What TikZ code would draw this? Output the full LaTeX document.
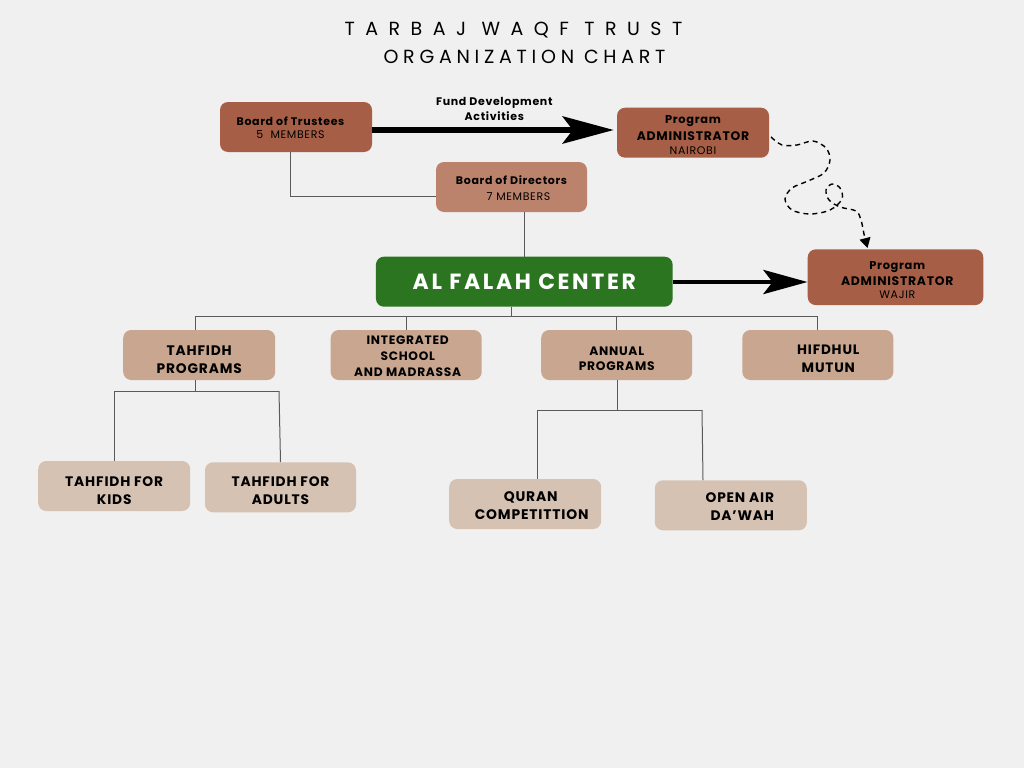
\documentclass[tikz,border=0pt]{standalone}
\usepackage{fontspec}
\setmainfont{Poppins}
\newfontfamily\titlefonta[LetterSpace=55]{Poppins}
\newfontfamily\titlefontb[LetterSpace=25]{Poppins}
\newfontfamily\spfont[LetterSpace=6]{Poppins}
\newfontfamily\bigfont[LetterSpace=12]{Poppins}
\usetikzlibrary{arrows.meta}
\definecolor{bg}{HTML}{F0F0F0}
\definecolor{darkbrown}{HTML}{A65F46}
\definecolor{midbrown}{HTML}{BC836C}
\definecolor{tan}{HTML}{C9A68F}
\definecolor{lighttan}{HTML}{D6C2B3}
\definecolor{leaf}{HTML}{2B7520}
\definecolor{linegray}{HTML}{5A5A5A}
\newcommand{\dn}[2]{\raisebox{-#1}[\height][\depth]{#2}}
\tikzset{
  box/.style={draw=none,rounded corners=8pt,inner sep=0pt,align=center,text=black,
    minimum width=152pt,minimum height=50pt},
  topbox/.style={box,fill=darkbrown},
  dirbox/.style={box,fill=midbrown},
  l1box/.style={box,fill=tan,font=\spfont\bfseries\fontsize{13.8}{17.6}\selectfont},
  l2box/.style={box,fill=lighttan,font=\spfont\bfseries\fontsize{13.8}{17.4}\selectfont},
  tree/.style={draw=linegray,line width=1pt},
}
\newcommand{\bsm}{\spfont\bfseries\fontsize{11}{13}\selectfont}
\newcommand{\rsm}{\spfont\fontsize{11}{13}\selectfont}
\newcommand{\prg}{\spfont\bfseries\fontsize{11.4}{13}\selectfont}
\newcommand{\adm}{\spfont\bfseries\fontsize{12.4}{13}\selectfont}
\begin{document}
\begin{tikzpicture}[x=1pt,y=-1pt]
\fill[bg] (0,0) rectangle (1024,768);
\useasboundingbox (0,0) rectangle (1024,768);

% title
\node[font=\titlefonta\fontsize{19}{22}\selectfont,anchor=base,inner sep=0pt] (t1) at (513.5,35.5) {TARBAJ WAQF TRUST};
\node[font=\titlefontb\fontsize{19}{22}\selectfont,anchor=base,inner sep=0pt] (t2) at (524.5,63.5) {ORGANIZATION CHART};

% boxes
\node[topbox,font=\fontsize{11}{13}\selectfont] (trust) at (296,127)
  {\dn{0.5pt}{\bsm Board of Trustees}\hspace*{11pt}\\\dn{0.5pt}{\rsm 5\ \ MEMBERS}\hspace*{11pt}};
\node[topbox,font=\fontsize{11}{13.6}\selectfont] (nai) at (693,132.7)
  {\dn{2.4pt}{\prg Program}\\[3.1pt]\dn{2.4pt}{\adm ADMINISTRATOR}\\\dn{2.4pt}{\rsm NAIROBI}};
\node[dirbox,minimum width=151pt,font=\fontsize{11}{16}\selectfont] (dir) at (511.5,187)
  {\dn{1pt}{\bsm Board of Directors}\\\hspace*{14pt}\dn{1pt}{\rsm 7 MEMBERS}};
\node[box,fill=leaf,minimum width=296.7pt,minimum height=50pt,text=white,
  font=\bigfont\bfseries\fontsize{22}{24}\selectfont] (alf) at (524.3,281.7) {AL FALAH CENTER};
\node[topbox,minimum width=175.6pt,minimum height=55.7pt,font=\fontsize{11}{13}\selectfont] (waj) at (895.5,277.2)
  {\hspace*{3.6pt}\dn{2.9pt}{\prg Program}\\[3.7pt]\hspace*{3.6pt}\dn{2.9pt}{\adm ADMINISTRATOR}\\\hspace*{3.6pt}\dn{2.9pt}{\rsm WAJIR}};

\node[l1box] (tah) at (199.2,355) {\dn{4.7pt}{TAHFIDH}\\\dn{4.7pt}{PROGRAMS}};
\node[l1box,font=\spfont\bfseries\fontsize{12.2}{16}\selectfont,minimum width=151pt] (int) at (406.2,355)
  {\hspace*{3pt}\dn{0.8pt}{INTEGRATED}\\\hspace*{3pt}\dn{0.8pt}{SCHOOL}\\\hspace*{3pt}\dn{0.8pt}{AND MADRASSA}};
\node[l1box,font=\spfont\bfseries\fontsize{12.3}{15.3}\selectfont,minimum width=151pt] (ann) at (616.7,355)
  {\dn{4pt}{ANNUAL}\\\dn{4pt}{PROGRAMS}};
\node[l1box,font=\spfont\bfseries\fontsize{13.6}{18}\selectfont,minimum width=151pt] (hif) at (817.8,355)
  {\hspace*{21pt}\dn{3.5pt}{HIFDHUL}\\\hspace*{21pt}\dn{3.5pt}{MUTUN}};

\node[l2box] (kids) at (114.2,486) {\dn{4.5pt}{TAHFIDH FOR}\\\dn{4.5pt}{KIDS}};
\node[l2box,minimum width=151pt] (adu) at (280.5,487.3) {\dn{3.2pt}{TAHFIDH FOR}\\\dn{3.2pt}{ADULTS}};
\node[l2box,font=\spfont\bfseries\fontsize{13.9}{17.6}\selectfont] (qur) at (525.2,504)
  {\hspace*{11pt}\dn{1.6pt}{QURAN}\\\hspace*{13pt}\dn{1.6pt}{COMPETITTION}};
\node[l2box,font=\spfont\bfseries\fontsize{13.8}{18.4}\selectfont] (opn) at (730.8,505.3)
  {\hspace*{18pt}\dn{1.4pt}{OPEN AIR}\\\hspace*{23pt}\dn{1.4pt}{DA’WAH}};

% connectors: top part
\draw[tree] (trust.south -| 290,0) |- (dir.west |- 0,196.7);
\draw[tree] (dir.south -| 524.5,0) -- (alf.north -| 524.5,0);

% bus under Al Falah
\coordinate (bus) at (511.7,316.7);
\draw[tree] (alf.south -| 511.7,0) -- (bus);
\draw[tree] (195,316.7) -- (817.5,316.7);
\draw[tree] (195,316.7) -- (tah.north -| 195,0);
\draw[tree] (406,316.7) -- (int.north -| 406,0);
\draw[tree] (616.8,316.7) -- (ann.north -| 616.8,0);
\draw[tree] (817.3,316.7) -- (hif.north -| 817.3,0);

% Tahfidh subtree
\draw[tree] (tah.south -| 195,0) -- (195,391);
\draw[tree] (114,391) -- (279,391);
\draw[tree] (114,391) -- (kids.north -| 114,0);
\draw[tree] (279,391) -- (adu.north -| 280.5,0);

% Annual subtree
\draw[tree] (ann.south -| 617.3,0) -- (617.3,410);
\draw[tree] (537,410) -- (702,410);
\draw[tree] (537,410) -- (qur.north -| 537,0);
\draw[tree] (702,410) -- (opn.north -| 703,0);

% arrows
\draw[line width=6.5pt,-{Stealth[length=51pt,width=27pt,inset=10pt]},shorten >=3pt]
  (trust.east |- 0,130) -- (nai.west |- 0,130);
\node[font=\spfont\bfseries\fontsize{11}{15}\selectfont,align=center,inner sep=0pt] (fund) at (494.3,108.5)
  {Fund Development\\Activities};
\draw[line width=4.8pt,-{Stealth[length=44pt,width=24pt,inset=9pt]}]
  (alf.east |- 0,282) -- (waj.west |- 0,282);

\coordinate (ds) at (771,137);
\coordinate (de) at (867.5,248);
\draw[line width=1.4pt,dash pattern=on 5pt off 4pt,-{Triangle[length=10pt,width=11pt]}]
  plot[smooth,tension=0.55] coordinates {(ds) (782,145) (797,145) (813,141) (826,148) (830,160)
    (824,173) (808,181) (792,188) (785,199) (792,210) (810,214) (830,210) (842,199) (840,188)
    (832,184) (826,190) (829,200) (840,207) (856,211) (861,220) (864,234) (de)};
\end{tikzpicture}
\end{document}
